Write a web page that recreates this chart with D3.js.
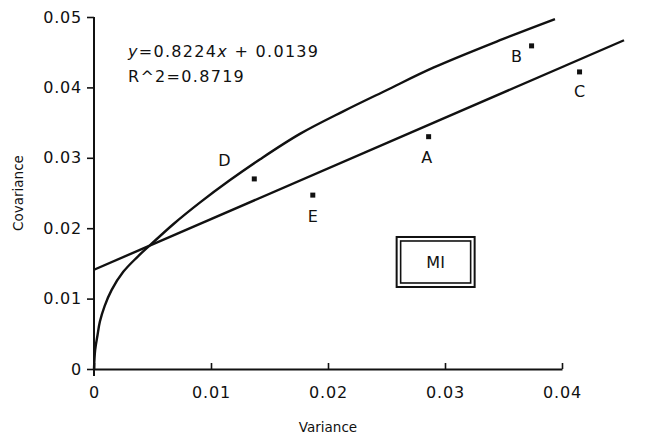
<html>
<head>
<script src="https://d3js.org/d3.v7.min.js" charset="utf-8"></script>
<style>
  body { margin: 0; background: #fff; }
  text { font-family: "DejaVu Sans", sans-serif; fill: #111; }
</style>
</head>
<body>
<script>
// tick values
var xTicks = [0, 0.01, 0.02, 0.03, 0.04];
var yTicks = [0, 0.01, 0.02, 0.03, 0.04, 0.05];
var xTickLabels = ['0', '0.01', '0.02', '0.03', '0.04'];
var yTickLabels = ['0', '0.01', '0.02', '0.03', '0.04', '0.05'];

// stations
var pointNames = ['A', 'B', 'C', 'D', 'E'];
var pointVar = [0.0286, 0.0374, 0.0415, 0.0137, 0.0187];
var pointCov = [0.0330, 0.0459, 0.0422, 0.0270, 0.0247];

// curve
var curveVar = [0, 0.0001, 0.0003, 0.0005, 0.0009, 0.0015, 0.0025, 0.0037, 0.0048, 0.0068, 0.0091, 0.0116, 0.0142, 0.0176, 0.0213, 0.0250, 0.0290, 0.0347, 0.0394];
var curveCov = [0, 0.0027, 0.0048, 0.0067, 0.0089, 0.0112, 0.0138, 0.0159, 0.0176, 0.0206, 0.0237, 0.0268, 0.0298, 0.0334, 0.0366, 0.0396, 0.0428, 0.0467, 0.0497];

// fitted line end points
var fitVar = [0, 0.0453];
var fitCov = [0.0141, 0.0467];

var w = 647, h = 440;
var svg = d3.select('body').append('svg').attr('width', w).attr('height', h);

var xScale = d3.scaleLinear().domain([0, 0.04]).range([94, 562]);
var yScale = d3.scaleLinear().domain([0, 0.05]).range([369, 17]);

// y axis
var yAxis = d3.axisLeft(yScale)
    .tickValues(yTicks)
    .tickFormat(function(d, i) { return yTickLabels[i]; })
    .tickSizeInner(7).tickSizeOuter(0).tickPadding(5);
var gy = svg.append('g').attr('transform', 'translate(94,0)').call(yAxis);
gy.select('.domain').attr('stroke', '#111').attr('stroke-width', 2)
    .attr('d', 'M0,' + (yScale(0) + 7) + 'V' + yScale(0.05));
gy.selectAll('.tick line').attr('stroke', '#111').attr('stroke-width', 1.6);
gy.selectAll('.tick text').style('font-size', '16px').style('letter-spacing', '0.8px').attr('fill', '#111');

// x axis
var xAxis = d3.axisBottom(xScale)
    .tickValues(xTicks)
    .tickFormat(function(d, i) { return xTickLabels[i]; })
    .tickSizeInner(-6).tickSizeOuter(0).tickPadding(18);
var gx = svg.append('g').attr('transform', 'translate(0,369)').call(xAxis);
gx.select('.domain').attr('stroke', '#111').attr('stroke-width', 2);
gx.selectAll('.tick line').attr('stroke', '#111').attr('stroke-width', 1.6);
gx.selectAll('.tick text').style('font-size', '16px').style('letter-spacing', '0.8px').attr('fill', '#111');

// axis titles
svg.append('text')
    .attr('x', (xScale(0) + xScale(0.04)) / 2).attr('y', 432)
    .attr('text-anchor', 'middle').style('font-size', '13.5px')
    .text('Variance');
svg.append('text')
    .attr('transform', 'translate(23,' + (yScale(0.025)) + ') rotate(-90)')
    .attr('text-anchor', 'middle').style('font-size', '13.5px')
    .text('Covariance');

// curve
var curveData = curveVar.map(function(v, i) { return [v, curveCov[i]]; });
var curveLine = d3.line()
    .x(function(d) { return xScale(d[0]); })
    .y(function(d) { return yScale(d[1]); })
    .curve(d3.curveCatmullRom.alpha(0.5));
svg.append('path').datum(curveData)
    .attr('d', curveLine).attr('fill', 'none')
    .attr('stroke', '#111').attr('stroke-width', 2.4);

// regression line
var fitData = fitVar.map(function(v, i) { return [v, fitCov[i]]; });
svg.append('path').datum(fitData)
    .attr('d', d3.line().x(function(d) { return xScale(d[0]); }).y(function(d) { return yScale(d[1]); }))
    .attr('fill', 'none').attr('stroke', '#111').attr('stroke-width', 2.4);

// points + labels
var labelOffset = { A: [-2, 26], B: [-15, 16], C: [0, 25], D: [-30, -13], E: [0, 27] };
var pts = pointNames.map(function(n, i) { return { name: n, x: pointVar[i], y: pointCov[i] }; });
svg.selectAll('.pt').data(pts).enter().append('rect')
    .attr('class', 'pt')
    .attr('x', function(d) { return xScale(d.x) - 2.5; })
    .attr('y', function(d) { return yScale(d.y) - 2.5; })
    .attr('width', 5).attr('height', 5).attr('fill', '#111');
svg.selectAll('.ptlabel').data(pts).enter().append('text')
    .attr('class', 'ptlabel')
    .attr('x', function(d) { return xScale(d.x) + labelOffset[d.name][0]; })
    .attr('y', function(d) { return yScale(d.y) + labelOffset[d.name][1]; })
    .attr('text-anchor', 'middle').style('font-size', '16px')
    .text(function(d) { return d.name; });

// equation
var eq = svg.append('text').attr('x', 128).attr('y', 57).style('font-size', '16px').style('letter-spacing', '1.3px');
eq.append('tspan').style('font-style', 'italic').text('y');
eq.append('tspan').text('=0.8224');
eq.append('tspan').style('font-style', 'italic').text('x');
eq.append('tspan').text(' + 0.0139');
svg.append('text').attr('x', 128).attr('y', 82).style('font-size', '16px').style('letter-spacing', '1.3px')
    .text('R^2=0.8719');

// MI box
var bx = xScale(0.0292), by = yScale(0.0152);
svg.append('rect').attr('x', bx - 39).attr('y', by - 25).attr('width', 78).attr('height', 50)
    .attr('fill', 'none').attr('stroke', '#111').attr('stroke-width', 2);
svg.append('rect').attr('x', bx - 35).attr('y', by - 21).attr('width', 70).attr('height', 42)
    .attr('fill', 'none').attr('stroke', '#111').attr('stroke-width', 1.6);
svg.append('text').attr('x', bx).attr('y', by + 6).attr('text-anchor', 'middle')
    .style('font-size', '16px').text('MI');
</script>
</body>
</html>
